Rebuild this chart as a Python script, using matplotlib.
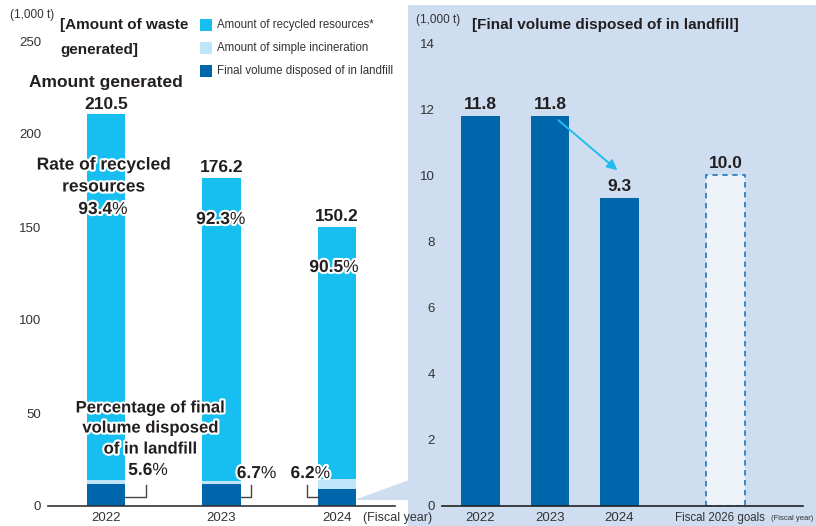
import matplotlib
matplotlib.use("Agg")
import matplotlib.pyplot as plt
import matplotlib.patheffects as pe
import matplotlib.transforms as mtrans
from matplotlib.patches import Rectangle, Polygon

plt.rcParams['font.family'] = ['Liberation Sans', 'DejaVu Sans']
plt.rcParams['mathtext.fontset'] = 'custom'
plt.rcParams['mathtext.rm'] = 'Liberation Sans'
plt.rcParams['mathtext.bf'] = 'Liberation Sans:bold'

# ---------------- data ----------------
years = ["2022", "2023", "2024"]
generated = [210.5, 176.2, 150.2]
recycled = [196.6, 162.6, 135.9]
incineration = [2.1, 1.8, 5.0]
landfill = [11.8, 11.8, 9.3]
recycle_rate = ["93.4", "92.3", "90.5"]
landfill_rate = ["5.6", "6.7", "6.2"]
left_yticks = [0, 50, 100, 150, 200, 250]

right_cats = ["2022", "2023", "2024", "Fiscal 2026 goals"]
right_actual = [11.8, 11.8, 9.3]
goal_value = 10.0
right_yticks = [0, 2, 4, 6, 8, 10, 12, 14]

# ---------------- style ----------------
C_REC = '#16BFF0'
C_INC = '#BEE5F8'
C_LAND = '#0066AB'
C_PANEL = '#CEDDEF'
C_GOAL = '#EEF3FA'
C_GOALEDGE = '#2E80C2'
TXT = '#231F20'
TICK = '#333333'
W, H = 816, 526

fig = plt.figure(figsize=(W / 100, H / 100), dpi=100)


def fx(x):
    return x / W


def fy(y):
    return 1 - y / H


# right panel background + wedge
fig.patches.append(Rectangle((fx(408), 0), fx(816) - fx(408), fy(5), transform=fig.transFigure,
                             facecolor=C_PANEL, edgecolor='none', zorder=0))
fig.patches.append(Polygon([(fx(357), fy(499)), (fx(409), fy(480)), (fx(409), fy(500)), (fx(357), fy(500))],
                           closed=True, transform=fig.transFigure, facecolor=C_PANEL, edgecolor='none', zorder=0))

stroke = [pe.withStroke(linewidth=3, foreground='white')]

# ---------------- left axes ----------------
ax = fig.add_axes([fx(48), fy(506), fx(395) - fx(48), fy(41) - fy(506)])
ax.set_zorder(2)
ax.set_facecolor('none')
xs = list(range(len(years)))
bw = 0.33
ax.bar(xs, landfill, bw, color=C_LAND, zorder=2)
ax.bar(xs, incineration, bw, bottom=landfill, color=C_INC, zorder=2)
bottoms2 = [a + b for a, b in zip(landfill, incineration)]
ax.bar(xs, recycled, bw, bottom=bottoms2, color=C_REC, zorder=2)
ax.set_xlim(-0.502, 2.502)
ax.set_ylim(0, 250)
ax.set_yticks(left_yticks)
ax.set_yticklabels([str(v) for v in left_yticks])
ax.set_xticks(xs)
ax.set_xticklabels(years)
ax.tick_params(axis='both', length=0, labelsize=9.5, colors=TICK)
ax.tick_params(axis='y', pad=5)
ax.tick_params(axis='x', pad=4)
for s in ['left', 'right', 'top']:
    ax.spines[s].set_visible(False)
ax.spines['bottom'].set_color('#333333')
ax.spines['bottom'].set_linewidth(1.2)

# generated totals
for i, g in enumerate(generated):
    ax.annotate(f"{g}", (i, g), xytext=(0, 2), textcoords='offset points', ha='center', va='bottom',
                fontsize=12.5, fontweight='bold', color=TXT, zorder=5)

ax.text(0.0, 227.5, "Amount generated", ha='center', va='center', fontsize=12.5, fontweight='bold',
        color=TXT, zorder=5)

# recycle rates
for txt, yy in [("Rate of recycled", 183.3), ("resources", 171.5)]:
    ax.text(-0.02, yy, txt, ha='center', va='center', fontsize=12.5,
            fontweight='bold', color=TXT, path_effects=stroke, zorder=5)
rate_pos = [(-0.02, 159.7), (0.0, 154.3), (-0.02, 128.5)]
for i in range(3):
    ax.text(i + rate_pos[i][0], rate_pos[i][1], r"$\mathbf{" + recycle_rate[i] + "}$%", ha='center',
            va='center', fontsize=12.5, color=TXT, path_effects=stroke, zorder=5)

# landfill rates
for txt, yy in [("Percentage of final", 52.7), ("volume disposed", 41.9), ("of in landfill", 30.6)]:
    ax.text(0.38, yy, txt, ha='center', va='center',
            fontsize=12, fontweight='bold', color=TXT, path_effects=stroke, zorder=5)
lr_pos = [(0.37, 19.4), (1.31, 17.7), (1.775, 17.7)]
for i in range(3):
    ax.text(lr_pos[i][0], lr_pos[i][1], r"$\mathbf{" + landfill_rate[i] + "}$%", ha='center', va='center',
            fontsize=12.5, color=TXT, path_effects=stroke, zorder=5)
# brackets
bh, bt = 4.8, 11.3
ax.plot([0 + bw / 2, 0.346, 0.346], [bh, bh, bt], color='#444444', lw=1, zorder=4)
ax.plot([1 + bw / 2, 1.255, 1.255], [bh, bh, bt], color='#444444', lw=1, zorder=4)
ax.plot([2 - bw / 2, 1.74, 1.74], [bh, bh, bt], color='#444444', lw=1, zorder=4)

# ---------------- right axes ----------------
ax2 = fig.add_axes([fx(442), fy(506), fx(803) - fx(442), fy(43) - fy(506)])
ax2.set_zorder(2)
ax2.set_facecolor('none')
rx = [0, 1, 2]
gx = 3.53
bw2 = 0.56
ax2.bar(rx, right_actual, bw2, color=C_LAND, zorder=2)
ax2.bar([gx], [goal_value], bw2, color=C_GOAL, edgecolor=C_GOALEDGE, linestyle=(0, (3, 2.5)),
        linewidth=1.3, zorder=2)
ax2.set_xlim(-0.554, 4.64)
ax2.set_ylim(0, 14)
ax2.set_yticks(right_yticks)
ax2.set_yticklabels([str(v) for v in right_yticks])
ax2.set_xticks(rx + [gx])
ax2.set_xticklabels(right_cats)
ax2.tick_params(axis='both', length=0, labelsize=9.5, colors=TICK)
ax2.tick_params(axis='y', pad=5)
ax2.tick_params(axis='x', pad=4)
goal_lbl = ax2.get_xticklabels()[3]
goal_lbl.set_fontsize(8.3)
goal_lbl.set_transform(goal_lbl.get_transform() + mtrans.ScaledTranslation(-6 / 100, 0, fig.dpi_scale_trans))
for s in ['left', 'right', 'top']:
    ax2.spines[s].set_visible(False)
ax2.spines['bottom'].set_color('#222222')
ax2.spines['bottom'].set_linewidth(1.2)

for x, v in zip(rx + [gx], right_actual + [goal_value]):
    ax2.annotate(f"{v:.1f}", (x, v), xytext=(0, 3), textcoords='offset points', ha='center', va='bottom',
                 fontsize=12.5, fontweight='bold', color=TXT, zorder=5)

ax2.annotate('', xy=(2.0, 10.1), xytext=(1.09, 11.72),
             arrowprops=dict(arrowstyle='-|>,head_length=0.6,head_width=0.3', color='#22BDEE', lw=1.4),
             zorder=4)

# ---------------- figure texts ----------------
fig.text(fx(10), fy(15), "(1,000 t)", fontsize=8.5, color=TICK, va='center', ha='left')
fig.text(fx(60), fy(25), "[Amount of waste", fontsize=11, fontweight='bold', color=TXT, va='center', ha='left')
fig.text(fx(60), fy(50), "generated]", fontsize=11, fontweight='bold', color=TXT, va='center', ha='left')

leg_items = [(C_REC, "Amount of recycled resources*"), (C_INC, "Amount of simple incineration"),
             (C_LAND, "Final volume disposed of in landfill")]
for k, (c, t) in enumerate(leg_items):
    yc = 25 + k * 23
    fig.patches.append(Rectangle((fx(200), fy(yc + 6)), fx(12), 12 / H, transform=fig.transFigure,
                                 facecolor=c, edgecolor='none'))
    fig.text(fx(217), fy(yc), t, fontsize=8.3, color=TICK, va='center', ha='left')

fig.text(fx(363), fy(518), "(Fiscal year)", fontsize=9, color=TICK, va='center', ha='left')
fig.text(fx(416), fy(20), "(1,000 t)", fontsize=8.5, color=TICK, va='center', ha='left')
fig.text(fx(472), fy(25), "[Final volume disposed of in landfill]", fontsize=11, fontweight='bold',
         color=TXT, va='center', ha='left')
fig.text(fx(771), fy(518), "(Fiscal year)", fontsize=5.5, color=TICK, va='center', ha='left')

fig.savefig("out.png", dpi=100, facecolor='white')
